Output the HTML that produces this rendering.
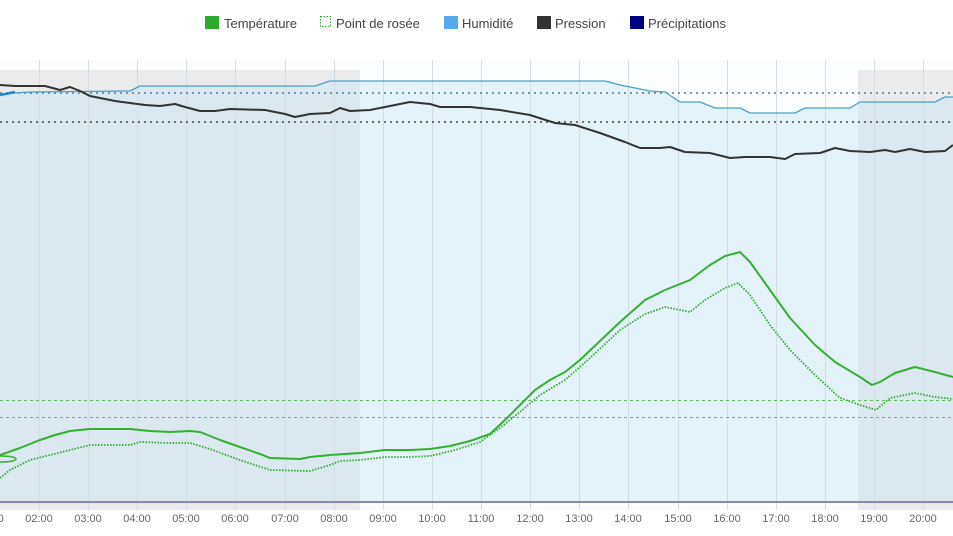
<!DOCTYPE html>
<html><head><meta charset="utf-8"><style>
html,body{margin:0;padding:0;background:#fff;width:953px;height:536px;overflow:hidden}
svg{display:block;font-family:"Liberation Sans",sans-serif}
</style></head><body>
<svg width="953" height="536" viewBox="0 0 953 536">
<!-- legend -->
<g font-size="13" fill="#444">
<rect x="205" y="16" width="14" height="13" fill="#2eaa2e"/><text x="224" y="28">Température</text>
<rect x="320.5" y="16.5" width="10" height="10" fill="none" stroke="#2eaa2e" stroke-dasharray="1.5,1.5"/><text x="336" y="28">Point de rosée</text>
<rect x="444" y="16" width="14" height="13" fill="#55aaee"/><text x="462" y="28">Humidité</text>
<rect x="537" y="16" width="14" height="13" fill="#333"/><text x="555" y="28">Pression</text>
<rect x="630" y="16" width="14" height="13" fill="#000080"/><text x="648" y="28">Précipitations</text>
</g>
<!-- plot bg -->
<rect x="0" y="60" width="953" height="450" fill="#fcfdfe"/>
<rect x="0" y="70" width="360" height="440" fill="#ebebeb"/>
<rect x="858" y="70" width="95" height="440" fill="#ebebeb"/>
<!-- humidity area -->
<polygon fill="#c8e4f4" fill-opacity="0.45" points="0,94 30,92 130,91 140,86 315,86 330,81 605,81 620,85 650,91 665,92 680,102 700,102 715,108 740,108 750,113 795,113 805,108 850,108 860,102 935,102 945,97 953,97 953,502 0,502"/>
<!-- grid lines -->
<g stroke="#d6dde2" stroke-width="1">
<line x1="39.5" y1="60" x2="39.5" y2="510"/><line x1="88.5" y1="60" x2="88.5" y2="510"/><line x1="137.5" y1="60" x2="137.5" y2="510"/><line x1="186.5" y1="60" x2="186.5" y2="510"/><line x1="235.5" y1="60" x2="235.5" y2="510"/><line x1="285.5" y1="60" x2="285.5" y2="510"/><line x1="334.5" y1="60" x2="334.5" y2="510"/><line x1="383.5" y1="60" x2="383.5" y2="510"/><line x1="432.5" y1="60" x2="432.5" y2="510"/><line x1="481.5" y1="60" x2="481.5" y2="510"/><line x1="530.5" y1="60" x2="530.5" y2="510"/><line x1="579.5" y1="60" x2="579.5" y2="510"/><line x1="628.5" y1="60" x2="628.5" y2="510"/><line x1="678.5" y1="60" x2="678.5" y2="510"/><line x1="727.5" y1="60" x2="727.5" y2="510"/><line x1="776.5" y1="60" x2="776.5" y2="510"/><line x1="825.5" y1="60" x2="825.5" y2="510"/><line x1="874.5" y1="60" x2="874.5" y2="510"/><line x1="923.5" y1="60" x2="923.5" y2="510"/>
</g>
<!-- reference lines -->
<line x1="0" y1="93" x2="953" y2="93" stroke="#557799" stroke-width="1.5" stroke-dasharray="2,4"/>
<line x1="0" y1="122" x2="953" y2="122" stroke="#444" stroke-width="1.5" stroke-dasharray="2,4"/>
<line x1="0" y1="400.5" x2="953" y2="400.5" stroke="#66bb66" stroke-width="1" stroke-dasharray="3,3"/>
<line x1="0" y1="417.5" x2="953" y2="417.5" stroke="#66bb66" stroke-width="1" stroke-dasharray="3,3"/>
<!-- precip -->
<line x1="0" y1="502" x2="953" y2="502" stroke="#8888b0" stroke-width="2"/>
<!-- humidity line -->
<polyline fill="none" stroke="#4a9fcc" stroke-width="1.3" stroke-linejoin="round" points="0,94 30,92 130,91 140,86 315,86 330,81 605,81 620,85 650,91 665,92 680,102 700,102 715,108 740,108 750,113 795,113 805,108 850,108 860,102 935,102 945,97 953,97"/>
<polyline fill="none" stroke="#2288cc" stroke-width="2.5" points="0,95 15,92"/>
<!-- pressure -->
<polyline fill="none" stroke="#333" stroke-width="2" stroke-linejoin="round" points="0,85 15,86 45,86 60,90 70,87 80,91 90,96 115,101 130,103 145,105 160,106 175,104 185,107 200,111 215,111 230,109 265,110 285,114 295,117 310,114 330,113 340,108 350,111 370,110 390,106 410,102 430,104 440,107 470,107 500,110 530,115 555,123 575,125 600,133 625,142 640,148 660,148 670,147 685,152 710,153 730,158 745,157 770,157 785,159 795,154 820,153 835,148 850,151 870,152 885,150 895,152 910,149 925,152 945,151 953,145"/>
<!-- dew point -->
<polyline fill="none" stroke="#2eaa2e" stroke-width="1.8" stroke-dasharray="1.5,1.5" stroke-linejoin="round" points="0,478 10,470 30,460 50,455 70,450 90,445 130,445 140,442 170,443 190,443 210,449 240,460 270,470 310,471 330,465 340,461 360,460 385,457 410,457 430,456 455,450 480,442 500,428 520,412 540,395 565,380 590,358 620,330 645,314 665,307 690,312 705,300 725,288 738,283 750,295 770,325 790,350 815,375 840,398 860,405 876,410 890,398 915,393 935,397 953,399"/>
<!-- temperature -->
<polyline fill="none" stroke="#33b033" stroke-width="2" stroke-linejoin="round" points="0,455 20,448 40,440 55,435 70,431 90,429 130,429 150,431 170,432 190,431 200,432 220,440 240,447 260,454 270,458 300,459 310,457 330,455 360,453 385,450 410,450 430,449 450,446 470,441 490,434 505,420 520,405 535,390 550,380 565,372 580,360 600,341 620,322 645,300 665,290 690,280 710,265 725,256 740,252 750,262 770,290 790,318 815,345 835,362 860,377 872,385 880,382 895,373 915,367 935,372 953,377"/>
<ellipse cx="2" cy="459" rx="14" ry="3" fill="none" stroke="#33b033" stroke-width="1.5"/>
<!-- x labels -->
<g font-size="11" fill="#666" text-anchor="middle">
<text x="-10" y="522">01:00</text><text x="39" y="522">02:00</text><text x="88" y="522">03:00</text><text x="137" y="522">04:00</text><text x="186" y="522">05:00</text><text x="235" y="522">06:00</text><text x="285" y="522">07:00</text><text x="334" y="522">08:00</text><text x="383" y="522">09:00</text><text x="432" y="522">10:00</text><text x="481" y="522">11:00</text><text x="530" y="522">12:00</text><text x="579" y="522">13:00</text><text x="628" y="522">14:00</text><text x="678" y="522">15:00</text><text x="727" y="522">16:00</text><text x="776" y="522">17:00</text><text x="825" y="522">18:00</text><text x="874" y="522">19:00</text><text x="923" y="522">20:00</text>
</g>
</svg>
</body></html>
